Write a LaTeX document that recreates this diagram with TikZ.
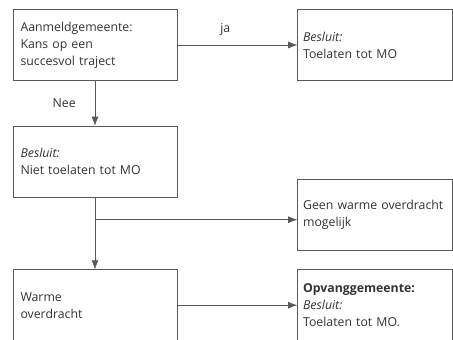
\documentclass[tikz,border=0pt]{standalone}
\usepackage{fontspec}
\setmainfont{Open Sans}
\usepackage{tikz}
\usetikzlibrary{arrows.meta,positioning,calc}
\definecolor{linegray}{gray}{0.35}
\definecolor{textgray}{gray}{0.2}

\begin{document}
\begin{tikzpicture}[
  box/.style={draw=linegray, semithick, align=left, inner xsep=7.5pt, inner ysep=6pt, minimum height=71pt, text=textgray, font=\fontsize{12.3}{17}\selectfont},
  lbox/.style={box, text width=149pt},
  rbox/.style={box, text width=144pt, inner xsep=5.5pt},
  arr/.style={-{Latex[length=3.2mm, width=2.4mm]}, semithick, draw=linegray},
  lab/.style={font=\fontsize{12.3}{14}\selectfont, text=textgray, inner sep=1pt},
  node distance=45pt and 120pt
]
\useasboundingbox (0,0) rectangle (453pt,-340pt);
\clip (0,0) rectangle (453pt,-340pt);
\node[lbox] (aanmeld) at (95pt,-45pt) {Aanmeldgemeente:\\Kans op een\\succesvol traject};
\node[rbox, right=of aanmeld] (toelaten) {\textit{Besluit:}\\Toelaten tot MO};
\node[lbox, below=of aanmeld] (niet) {\textit{Besluit:}\\Niet toelaten tot MO};
\node[lbox, below=72pt of niet] (warm) {Warme\\overdracht};
\node[rbox, right=of warm] (opvang) {\textbf{Opvanggemeente:}\\\textit{Besluit:}\\Toelaten tot MO.};
\coordinate (split) at ($(niet.south)!0.31!(warm.north)$);
\node[rbox, anchor=west, yshift=5pt] (geen) at (split -| opvang.west) {Geen warme overdracht\\mogelijk};
\draw[arr] (aanmeld) -- node[lab, pos=0.4, above=8pt] {ja} (toelaten);
\draw[arr] (aanmeld) -- node[lab, left=18pt] {Nee} (niet);
\draw[arr] (niet) -- (warm);
\draw[arr] (split) -- (split -| geen.west);
\draw[arr] (warm) -- (opvang);
\end{tikzpicture}
\end{document}
